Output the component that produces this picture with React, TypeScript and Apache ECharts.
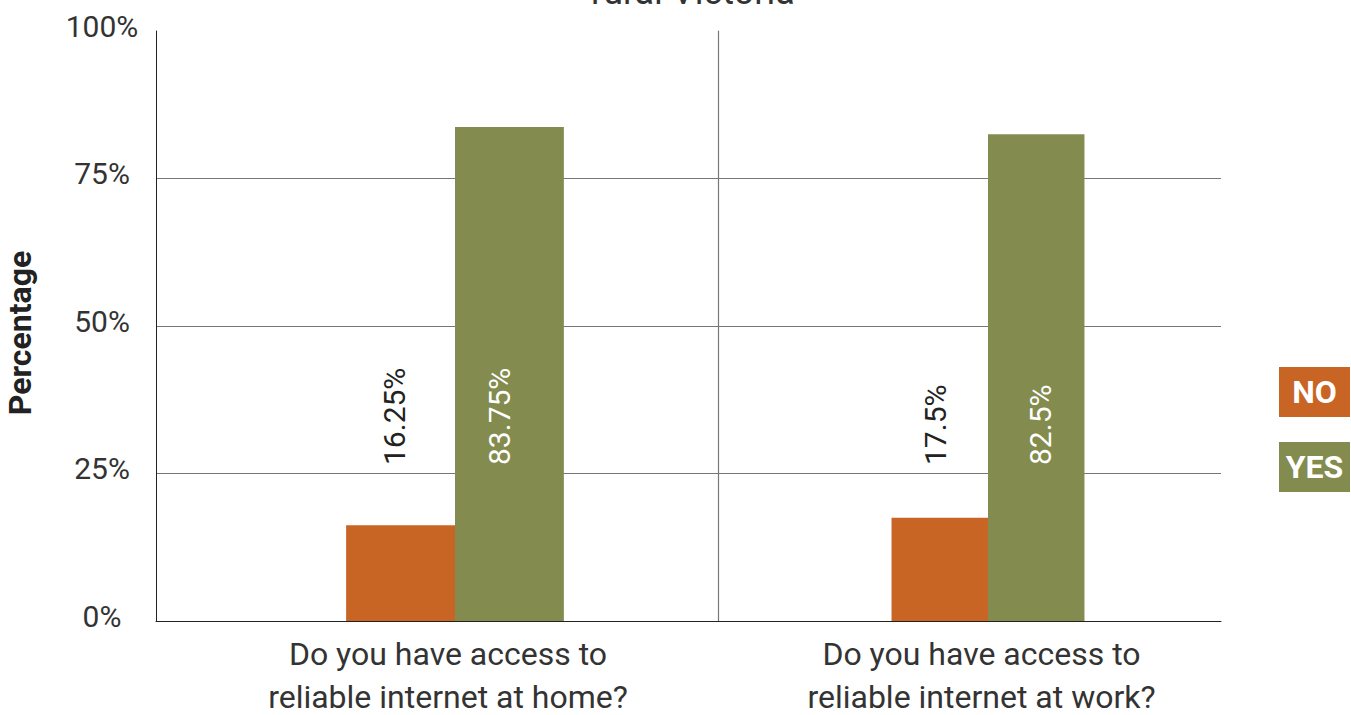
import React, { useEffect, useRef } from "react";
import * as echarts from "echarts";

const titleText = "rural Victoria";
const yAxisTitle = "Percentage";
const categories = [
  "Do you have access to\nreliable internet at home?",
  "Do you have access to\nreliable internet at work?",
];
const seriesNames = ["NO", "YES"];
const noValues = [16.25, 17.5];
const yesValues = [83.75, 82.5];
const yMin = 0;
const yMax = 100;
const yInterval = 25;

const NO_COLOR = "#C86424";
const YES_COLOR = "#838C4E";
const FONT = "Roboto";
const TEXT = "#333333";
const GRID_LINE = "#777777";
const AXIS_LINE = "#222222";

export default function App() {
  const ref = useRef<HTMLDivElement>(null);

  useEffect(() => {
    if (!ref.current) return;
    const chart = echarts.init(ref.current, undefined, { renderer: "svg" });

    const top = 31;
    const height = 590;

    const valueAxisBase = {
      type: "value" as const,
      min: yMin,
      max: yMax,
      interval: yInterval,
    };

    // shift > 0 moves the rotated label left on screen, < 0 moves it right
    const barLabel = (color: string, shift: number) => ({
      show: true,
      position: "insideBottom" as const,
      distance: 156,
      rotate: 90,
      align: "left" as const,
      verticalAlign: shift >= 0 ? ("bottom" as const) : ("top" as const),
      lineHeight: Math.max(2, Math.abs(shift) * 2),
      fontSize: 30,
      fontFamily: FONT,
      color,
      formatter: (p: any) => `${p.value}%`,
    });

    const makeBar = (
      name: string,
      value: number,
      axisIndex: number,
      color: string,
      labelColor: string,
      shift: number
    ) => ({
      type: "bar" as const,
      name,
      xAxisIndex: axisIndex,
      yAxisIndex: axisIndex,
      data: [value],
      barGap: "0%",
      barCategoryGap: "58.6%",
      itemStyle: { color },
      label: barLabel(labelColor, shift),
      emphasis: { disabled: true },
      silent: true,
    });

    const catLabel = (padRight: number) => ({
      fontFamily: FONT,
      fontSize: 32,
      color: TEXT,
      lineHeight: 43,
      margin: 11,
      padding: [0, padRight, 0, 0],
    });

    const gridBase = { top, height, containLabel: false, outerBoundsMode: "none" };

    const option: any = {
      animation: false,
      backgroundColor: "#ffffff",
      textStyle: { fontFamily: FONT },
      title: {
        text: titleText,
        left: 591,
        top: -26,
        padding: 0,
        textStyle: { fontFamily: FONT, fontSize: 36, fontWeight: "normal", color: TEXT },
      },
      legend: {
        orient: "vertical",
        left: 1274,
        top: 367,
        padding: 0,
        itemGap: 25,
        itemWidth: 0,
        itemHeight: 50,
        icon: "none",
        selectedMode: false,
        data: seriesNames,
        formatter: (name: string) => `{${name.toLowerCase()}|${name}}`,
        textStyle: {
          fontFamily: FONT,
          rich: {
            no: {
              width: 71,
              height: 50,
              lineHeight: 50,
              align: "center",
              backgroundColor: NO_COLOR,
              color: "#ffffff",
              fontWeight: "bold",
              fontSize: 32,
              fontFamily: FONT,
            },
            yes: {
              width: 71,
              height: 50,
              lineHeight: 50,
              align: "center",
              backgroundColor: YES_COLOR,
              color: "#ffffff",
              fontWeight: "bold",
              fontSize: 32,
              fontFamily: FONT,
            },
          },
        },
      },
      grid: [
        { ...gridBase, left: 156, width: 562 },
        { ...gridBase, left: 718, width: 503 },
        { ...gridBase, left: 192, width: 526 },
        { ...gridBase, left: 755, width: 466 },
      ],
      xAxis: [
        {
          gridIndex: 0,
          type: "category",
          data: [""],
          axisLine: { show: true, lineStyle: { color: AXIS_LINE, width: 1 } },
          axisTick: { show: false },
          axisLabel: { show: false },
        },
        {
          gridIndex: 1,
          type: "category",
          data: [""],
          axisLine: { show: true, lineStyle: { color: AXIS_LINE, width: 1 } },
          axisTick: { show: false },
          axisLabel: { show: false },
        },
        {
          gridIndex: 2,
          type: "category",
          data: [categories[0]],
          axisLine: { show: false },
          axisTick: { show: false },
          axisLabel: catLabel(14),
        },
        {
          gridIndex: 3,
          type: "category",
          data: [categories[1]],
          axisLine: { show: false },
          axisTick: { show: false },
          axisLabel: catLabel(13),
        },
      ],
      yAxis: [
        {
          ...valueAxisBase,
          gridIndex: 0,
          name: yAxisTitle,
          nameLocation: "middle",
          nameGap: 120,
          nameRotate: 90,
          nameTextStyle: {
            fontFamily: FONT,
            fontSize: 32,
            fontWeight: "bold",
            color: "#222222",
            padding: [0, 14, 0, 0],
          },
          axisLine: { show: true, lineStyle: { color: AXIS_LINE, width: 1 } },
          axisTick: { show: false },
          axisLabel: {
            formatter: "{value}%",
            fontFamily: FONT,
            fontSize: 30,
            color: TEXT,
            align: "center",
            verticalAlign: "bottom",
            lineHeight: 10,
            margin: 54,
          },
          splitLine: { show: true, showMaxLine: false, lineStyle: { color: GRID_LINE, width: 1 } },
        },
        {
          ...valueAxisBase,
          gridIndex: 1,
          axisLine: { show: true, lineStyle: { color: GRID_LINE, width: 1.2 } },
          axisTick: { show: false },
          axisLabel: { show: false },
          splitLine: { show: true, showMaxLine: false, lineStyle: { color: GRID_LINE, width: 1 } },
        },
        { ...valueAxisBase, gridIndex: 2, show: false, splitLine: { show: false } },
        { ...valueAxisBase, gridIndex: 3, show: false, splitLine: { show: false } },
      ],
      series: [
        makeBar(seriesNames[0], noValues[0], 2, NO_COLOR, "#222222", 6),
        makeBar(seriesNames[1], yesValues[0], 2, YES_COLOR, "#ffffff", 10),
        makeBar(seriesNames[0], noValues[1], 3, NO_COLOR, "#222222", 4),
        makeBar(seriesNames[1], yesValues[1], 3, YES_COLOR, "#ffffff", -4),
      ],
    };

    chart.setOption(option);
    return () => chart.dispose();
  }, []);

  return (
    <div
      ref={ref}
      style={{ position: "fixed", left: 0, top: 0, width: 1351, height: 715 }}
    />
  );
}
